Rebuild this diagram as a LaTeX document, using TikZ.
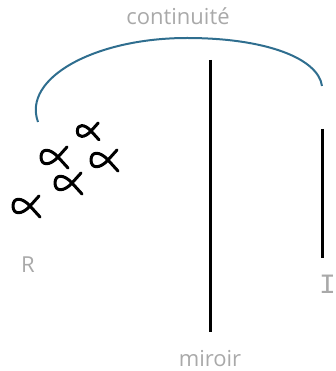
\documentclass[tikz,border=0pt]{standalone}
\usepackage{fontspec}
\setmainfont{Open Sans}
\newfontfamily\slabfont{Liberation Mono}
\usepackage{xcolor}
\usetikzlibrary{arrows.meta, positioning}

\definecolor{arcblue}{HTML}{2F6E8F}
\definecolor{labelgray}{HTML}{A9A9A9}

\tikzset{
  lbl/.style={text=labelgray, font=\fontsize{22}{26}\selectfont, inner sep=0pt, anchor=base},
  wall/.style={line width=3pt, black},
  prop/.pic={
    \draw[line width=3pt, line cap=round, line join=round]
      (9,-10) -- (0,0) .. controls (-8,9) and (-17,9) .. (-17,0)
      .. controls (-17,-9) and (-8,-9) .. (0,0) -- (10,11);
  }
}

\begin{document}
\begin{tikzpicture}[x=1pt, y=-1pt]
\useasboundingbox (0,0) rectangle (336,371);

% Labels
\node[lbl] (cont) at (178, 25) {continuité};
\node[lbl] (miroir) at (210, 366) {miroir};
\node[lbl] (R) at (28, 272) {R};
\node[lbl, anchor=base west, font=\slabfont\fontsize{28}{32}\selectfont] (I) at (319, 293) {I};

% Mirror and image wall
\draw[wall] (210, 60) -- (210, 332);
\draw[wall] (322, 129) -- (322, 258);

% Continuity arc
\coordinate (arcL) at (38, 122);
\coordinate (arcR) at (322, 86);
\draw[arcblue, line width=2pt] (arcL) .. controls (22, 78) and (95, 38) .. (187, 38)
    .. controls (265, 38) and (318, 58) .. (arcR);

% Objects (real side)
\pic[scale=0.8] at (91, 131) {prop};
\pic at (58, 157) {prop};
\pic at (108, 160) {prop};
\pic at (72, 183) {prop};
\pic at (30, 206) {prop};

\end{tikzpicture}
\end{document}
